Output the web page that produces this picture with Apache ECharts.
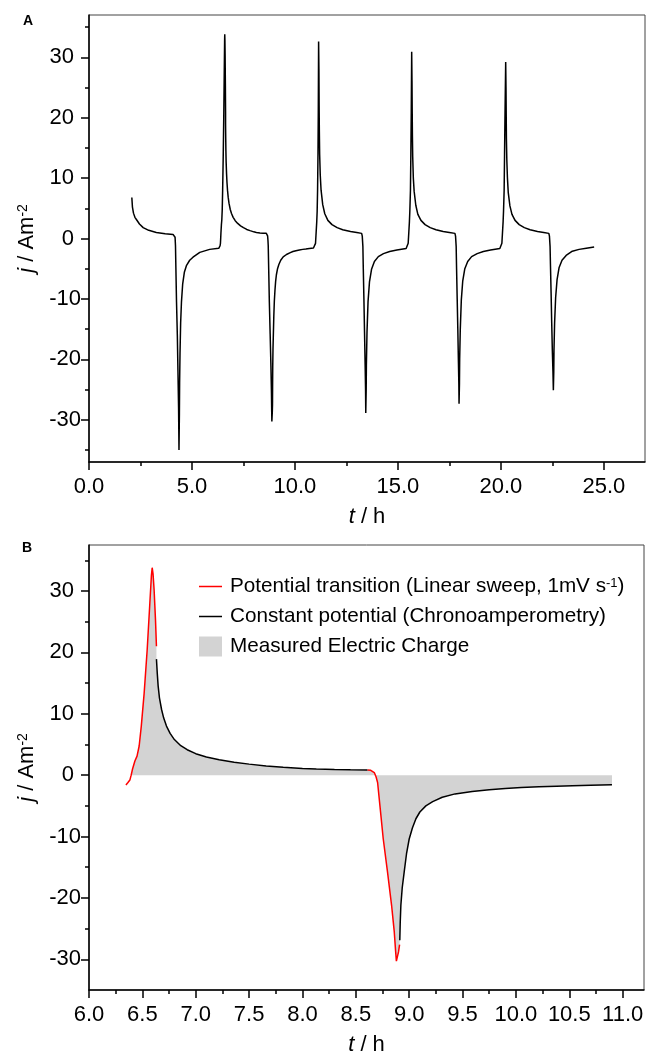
<!DOCTYPE html>
<html>
<head>
<meta charset="utf-8">
<title>Current density vs time</title>
<script src="https://cdn.jsdelivr.net/npm/echarts@6/dist/echarts.min.js"></script>
<style>
  html, body { margin: 0; padding: 0; background: #fff; }
  #chart { width: 649px; height: 1057px; }
</style>
</head>
<body>
<div id="chart"></div>
<script>
// ---- panel B : one cycle, [t (h), j (A m-2)] ----
// linear sweep up to the anodic peak (red)
var bRise = [[6.346,-1.6],[6.365,-1.2],[6.383,-0.8],[6.395,0],[6.408,1.0],[6.43,2.3],[6.45,3.1],[6.47,4.75],
  [6.49,8.0],[6.517,13.4],[6.545,20.4],[6.57,28.0],[6.585,32.6],[6.592,33.8],[6.6,32.8],[6.61,30.2],
  [6.623,25.3],[6.632,21.0]];
// constant potential decay (black)
var bDecay = [[6.632,18.9],[6.64,16.5],[6.648,14.5],[6.66,12.6],[6.68,10.7],[6.70,9.3],[6.726,8.0],[6.76,6.8],
  [6.80,5.8],[6.86,4.8],[6.92,4.15],[7.0,3.5],[7.1,2.95],[7.22,2.5],[7.36,2.1],[7.5,1.8],[7.66,1.5],
  [7.82,1.3],[8.0,1.1],[8.13,1.0],[8.3,0.92],[8.45,0.88],[8.61,0.85]];
// linear sweep down to the cathodic peak (red)
var bDrop = [[8.61,0.85],[8.64,0.8],[8.673,0.43],[8.69,-0.3],[8.704,-1.2],[8.726,-5.0],[8.757,-10.4],
  [8.797,-15.8],[8.835,-21.2],[8.86,-25.5],[8.872,-28.5],[8.88,-30.3],[8.89,-30.0],[8.90,-28.8],[8.91,-27.6]];
// constant potential recovery (black)
var bRecover = [[8.912,-26.9],[8.916,-24],[8.922,-21.2],[8.935,-18.3],[8.953,-15.8],[8.975,-12.8],[9.0,-10.4],
  [9.03,-8.6],[9.063,-7.1],[9.1,-6.0],[9.156,-5.0],[9.22,-4.3],[9.31,-3.6],[9.43,-3.05],[9.59,-2.65],
  [9.75,-2.38],[9.9,-2.16],[10.05,-2.02],[10.215,-1.9],[10.38,-1.8],[10.53,-1.73],[10.7,-1.65],[10.9,-1.57]];

// ---- panel A : full run ----
var aStart = [[2.08,6.8],[2.11,5.2],[2.16,4.2],[2.23,3.5],[2.31,3.1],[2.45,2.4],[2.63,1.8],[2.9,1.35],
  [3.27,1.0],[3.7,0.8],[4.08,0.68],[4.15,0.62]];
var aNeg1 = [[4.18,0.2],[4.2,-1.2],[4.22,-5],[4.25,-10.5],[4.29,-16],[4.32,-22],[4.35,-28],[4.37,-35],
  [4.39,-29],[4.4,-24],[4.42,-19],[4.45,-14],[4.49,-10.5],[4.55,-7.5],[4.63,-5.6],[4.73,-4.5],[4.89,-3.6],
  [5.05,-3.1],[5.38,-2.3],[5.86,-1.8],[6.3,-1.62]];
var aPos2 = [[10.95,-1.55],[11.0,-0.8],[11.03,1.0],[11.06,2.8],[11.08,4.5],[11.1,8],[11.12,14],[11.135,21],
  [11.15,32.6],[11.165,28],[11.175,22],[11.185,18],[11.2,14],[11.23,10.5],[11.27,8],[11.35,5.6],[11.45,4.1],
  [11.6,3.0],[11.8,2.3],[12.05,1.8],[12.32,1.45],[12.7,1.15],[13.0,1.0],[13.24,0.85]];
var aNeg2 = [[13.27,0.4],[13.3,-1.3],[13.32,-5],[13.35,-10],[13.38,-15.5],[13.41,-21],[13.43,-25],[13.44,-28.9],
  [13.46,-25],[13.47,-21],[13.5,-15.5],[13.55,-10.5],[13.62,-7.2],[13.72,-5.1],[13.86,-3.8],[14.05,-3.0],
  [14.3,-2.5],[14.6,-2.15],[14.95,-1.9],[15.4,-1.65]];
var aPos3 = [[15.45,-1.55],[15.5,-0.8],[15.53,1.0],[15.56,2.8],[15.58,4.5],[15.61,8],[15.63,14],[15.65,21],
  [15.67,30.9],[15.685,26],[15.695,21],[15.705,17],[15.72,13.5],[15.75,10],[15.79,7.8],[15.87,5.5],[15.97,4.0],
  [16.12,3.0],[16.32,2.3],[16.57,1.8],[16.85,1.45],[17.2,1.15],[17.5,1.0],[17.77,0.85]];
var aNeg3 = [[17.8,0.4],[17.83,-1.3],[17.85,-5],[17.88,-10],[17.91,-15],[17.94,-20.5],[17.96,-24],[17.97,-27.35],
  [17.99,-24],[18.0,-20],[18.03,-15],[18.08,-10.2],[18.15,-7],[18.25,-5],[18.39,-3.8],[18.58,-3.0],
  [18.85,-2.5],[19.15,-2.15],[19.5,-1.9],[19.95,-1.65]];
var aPos4 = [[20.0,-1.55],[20.05,-0.8],[20.08,1.0],[20.11,2.8],[20.13,4.5],[20.16,8],[20.18,14],[20.2,20],
  [20.235,29.2],[20.25,25],[20.26,20.5],[20.27,16.5],[20.29,13],[20.32,10],[20.36,7.6],[20.44,5.4],[20.54,4.0],
  [20.69,3.0],[20.89,2.3],[21.14,1.8],[21.42,1.45],[21.78,1.15],[22.08,1.0],[22.33,0.85]];
var aNeg4 = [[22.36,0.4],[22.39,-1.3],[22.41,-4.5],[22.44,-9],[22.47,-14],[22.5,-18.5],[22.53,-22],[22.55,-25.1],
  [22.57,-22],[22.58,-18.5],[22.61,-14],[22.66,-9.8],[22.73,-6.8],[22.83,-4.8],[22.97,-3.6],[23.17,-2.8],
  [23.47,-2.1],[23.8,-1.8],[24.15,-1.6],[24.53,-1.4]];

// ---- ticks ----
var aXTicks = [0, 5, 10, 15, 20, 25];
var aXMinor = [2.5, 7.5, 12.5, 17.5, 22.5];
var aYTicks = [-30, -20, -10, 0, 10, 20, 30];
var aYMinor = [-35, -25, -15, -5, 5, 15, 25, 35];
var bXTicks = [6, 6.5, 7, 7.5, 8, 8.5, 9, 9.5, 10, 10.5, 11];
var bXMinor = [6.25, 6.75, 7.25, 7.75, 8.25, 8.75, 9.25, 9.75, 10.25, 10.75];
var bYTicks = [-30, -20, -10, 0, 10, 20, 30];
var bYMinor = [-25, -15, -5, 5, 15, 25, 35];

var SWEEP = 'Potential transition (Linear sweep, 1mV s-1)';
var HOLD = 'Constant potential (Chronoamperometry)';
var CHARGE = 'Measured Electric Charge';

var FONT = '"Liberation Sans", Arial, Helvetica, sans-serif';
// thin bar used as the legend mark of a line
var LINE_ICON = 'path://M0,0 L46,0 L46,3 L0,3 Z';

var curveA = aStart.concat(aNeg1, bRise, bDecay, bDrop, bRecover, aPos2, aNeg2, aPos3, aNeg3, aPos4, aNeg4);
var chargeB = [[6.395, 0]].concat(bRise.filter(function (p) { return p[0] > 6.395; }), bDecay, bDrop, bRecover);

function majorX(grid, min, max, ticks, digits) {
  return {
    gridIndex: grid, type: 'value', position: 'bottom', min: min, max: max,
    axisLine: {onZero: false, lineStyle: {color: '#000', width: 1.5}},
    axisTick: {customValues: ticks, length: 8, lineStyle: {color: '#000', width: 1.5}},
    axisLabel: {customValues: ticks, margin: 14, color: '#000', fontSize: 22, fontFamily: FONT,
      formatter: function (v) { return v.toFixed(digits); }},
    splitLine: {show: false},
    name: '{i|t} / h', nameLocation: 'middle', nameGap: 44,
    nameTextStyle: {color: '#000', fontSize: 22, fontFamily: FONT,
      rich: {i: {fontStyle: 'italic', fontSize: 22, fontFamily: FONT, color: '#000'}}}
  };
}
function minorX(grid, min, max, ticks) {
  return {
    gridIndex: grid, type: 'value', position: 'bottom', min: min, max: max,
    axisLine: {show: false, onZero: false},
    axisTick: {customValues: ticks, length: 4, lineStyle: {color: '#000', width: 1.5}},
    axisLabel: {show: false}, splitLine: {show: false}
  };
}
function majorY(grid, min, max, ticks) {
  return {
    gridIndex: grid, type: 'value', position: 'left', min: min, max: max,
    axisLine: {show: true, onZero: false, lineStyle: {color: '#000', width: 1.5}},
    axisTick: {show: true, customValues: ticks, length: 8, lineStyle: {color: '#000', width: 1.5}},
    axisLabel: {customValues: ticks, margin: 8, color: '#000', fontSize: 22, fontFamily: FONT,
      formatter: function (v) { return v < 0 ? String(v) : '{p|' + v + '}'; },
      rich: {p: {fontSize: 22, fontFamily: FONT, color: '#000', padding: [0, 7, 0, 0]}}},
    splitLine: {show: false},
    name: '{i|j} / Am{sup|-2}', nameLocation: 'middle', nameGap: 50,
    nameTextStyle: {color: '#000', fontSize: 22, fontFamily: FONT,
      rich: {
        i: {fontStyle: 'italic', fontSize: 22, fontFamily: FONT, color: '#000'},
        sup: {fontSize: 14, fontFamily: FONT, color: '#000', verticalAlign: 'top', lineHeight: 14}
      }}
  };
}
function minorY(grid, min, max, ticks) {
  return {
    gridIndex: grid, type: 'value', position: 'left', min: min, max: max,
    axisLine: {show: false, onZero: false},
    axisTick: {show: true, customValues: ticks, length: 4, lineStyle: {color: '#000', width: 1.5}},
    axisLabel: {show: false}, splitLine: {show: false}
  };
}
function curve(name, data, color, xi, yi) {
  return {
    name: name, type: 'line', data: data, xAxisIndex: xi, yAxisIndex: yi,
    symbol: 'none', showSymbol: false, silent: true, z: 3,
    itemStyle: {color: color},
    lineStyle: {color: color, width: 1.5}
  };
}

var chart = echarts.init(document.getElementById('chart'));
chart.setOption({
  animation: false,
  backgroundColor: '#fff',
  title: [
    {text: 'A', left: 23, top: 14, padding: 0, textStyle: {fontSize: 14, fontWeight: 'bold', fontFamily: FONT, color: '#000'}},
    {text: 'B', left: 22, top: 541, padding: 0, textStyle: {fontSize: 14, fontWeight: 'bold', fontFamily: FONT, color: '#000'}}
  ],
  grid: [
    {left: 89, top: 15, width: 556, height: 447, show: true, borderColor: '#444', borderWidth: 1},
    {left: 89, top: 545, width: 555, height: 447, show: true, borderColor: '#444', borderWidth: 1}
  ],
  xAxis: [
    majorX(0, 0, 27, aXTicks, 1),
    minorX(0, 0, 27, aXMinor),
    majorX(1, 6, 11.2, bXTicks, 1),
    minorX(1, 6, 11.2, bXMinor)
  ],
  yAxis: [
    majorY(0, -37, 37, aYTicks),
    minorY(0, -37, 37, aYMinor),
    majorY(1, -35, 37.5, bYTicks),
    minorY(1, -35, 37.5, bYMinor)
  ],
  legend: {
    orient: 'vertical', left: 199, top: 576, padding: 0,
    itemWidth: 23, itemHeight: 20, itemGap: 9, selectedMode: false,
    textStyle: {fontSize: 20.7, fontFamily: FONT, color: '#000', lineHeight: 20, padding: [0, 0, 0, 3],
      rich: {sup: {fontSize: 13, fontFamily: FONT, color: '#000', verticalAlign: 'top', lineHeight: 13}}},
    formatter: function (name) {
      return name === SWEEP ? 'Potential transition (Linear sweep, 1mV s{sup|-1})' : name;
    },
    data: [
      {name: SWEEP, icon: LINE_ICON, itemStyle: {color: '#ff0000'}},
      {name: HOLD, icon: LINE_ICON, itemStyle: {color: '#000'}},
      {name: CHARGE, icon: 'rect', itemStyle: {color: '#d3d3d3'}}
    ]
  },
  series: [
    curve('run', curveA, '#000', 0, 0),
    {
      name: CHARGE, type: 'line', data: chargeB, xAxisIndex: 2, yAxisIndex: 2,
      symbol: 'none', showSymbol: false, silent: true, z: 2,
      itemStyle: {color: '#d3d3d3'},
      lineStyle: {width: 0, opacity: 0},
      areaStyle: {color: '#d3d3d3', opacity: 1}
    },
    curve(SWEEP, bRise, '#ff0000', 2, 2),
    curve(HOLD, bDecay, '#000', 2, 2),
    curve(SWEEP, bDrop, '#ff0000', 2, 2),
    curve(HOLD, bRecover, '#000', 2, 2)
  ]
});
</script>
</body>
</html>
